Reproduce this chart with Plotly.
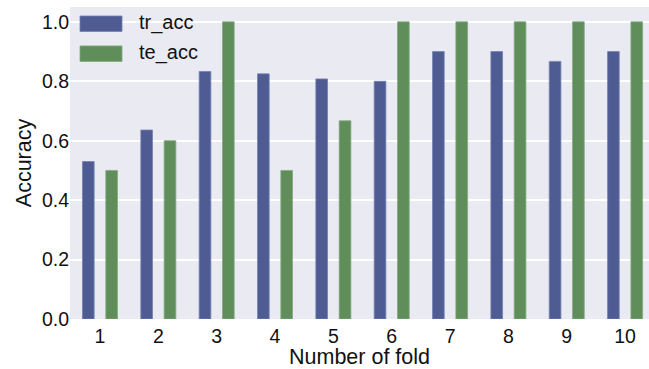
import plotly.graph_objects as go

folds = [1, 2, 3, 4, 5, 6, 7, 8, 9, 10]
tr_acc = [0.53, 0.636, 0.833, 0.825, 0.808, 0.80, 0.90, 0.90, 0.867, 0.90]
te_acc = [0.50, 0.60, 1.00, 0.50, 0.667, 1.00, 1.00, 1.00, 1.00, 1.00]
series_names = ["tr_acc", "te_acc"]
y_ticks = [0.0, 0.2, 0.4, 0.6, 0.8, 1.0]

BLUE = "#4F5C94"
GREEN = "#5F8E5B"
FONT = "Liberation Sans, Arial, sans-serif"
TXT = "#111111"

fig = go.Figure()
fig.add_trace(go.Bar(x=folds, y=tr_acc, name=series_names[0], width=0.2, offset=-0.3,
                     marker=dict(color=BLUE, line=dict(color="#7582B0", width=0.8)),
                     showlegend=False))
fig.add_trace(go.Bar(x=folds, y=te_acc, name=series_names[1], width=0.2, offset=0.1,
                     marker=dict(color=GREEN, line=dict(color="#82A87E", width=0.8)),
                     showlegend=False))

# legend drawn to match the wide matplotlib patches
W, H = 579.0, 312.4
def px(x):
    return (x - 70) / W
def py(y):
    return (319.4 - y) / H

shapes = []
annotations = []
for i, (nm, col, lc) in enumerate([(series_names[0], BLUE, "#7582B0"), (series_names[1], GREEN, "#82A87E")]):
    top = 16 + 30 * i
    shapes.append(dict(type="rect", xref="paper", yref="paper",
                       x0=px(80), x1=px(122), y0=py(top + 15.5), y1=py(top),
                       fillcolor=col, line=dict(color=lc, width=0.8)))
    annotations.append(dict(text=nm, xref="paper", yref="paper", x=px(137), y=py(top + 7),
                            xanchor="left", yanchor="middle", showarrow=False,
                            font=dict(family=FONT, size=20, color=TXT)))

fig.update_layout(
    width=649, height=369,
    margin=dict(l=70, r=0, t=7, b=50),
    paper_bgcolor="white",
    plot_bgcolor="#EAEAF2",
    font=dict(family=FONT, size=19.5, color=TXT),
    shapes=shapes,
    annotations=annotations,
    xaxis=dict(range=[0.486, 10.41], tickmode="array", tickvals=folds,
               ticktext=[str(f) for f in folds], showgrid=False, zeroline=False,
               showline=False, ticks="", ticklabelstandoff=3,
               title=dict(text="Number of fold", standoff=0, font=dict(size=21.5)),
               tickfont=dict(size=19.5)),
    yaxis=dict(range=[0, 1.05], tickmode="array", tickvals=y_ticks, tickformat=".1f",
               showgrid=True, gridcolor="white", gridwidth=1.5, zeroline=False,
               showline=False, ticks="", title=dict(text="Accuracy", standoff=4,
               font=dict(size=21.5)), tickfont=dict(size=19.5)),
)

fig.write_html("out.html", config={"displayModeBar": False},
               post_script="document.body.style.margin='0px';")
